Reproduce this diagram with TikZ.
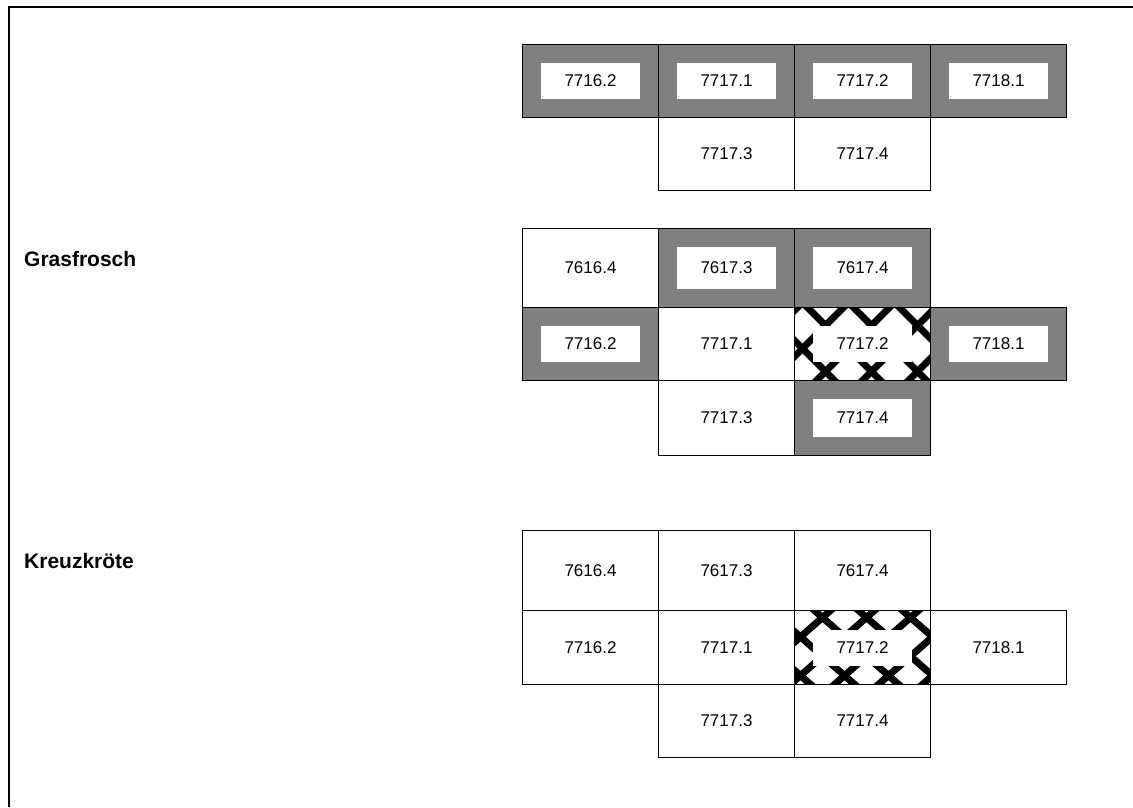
\documentclass[tikz,border=0pt]{standalone}
\usepackage{fontspec}
\setmainfont{Liberation Sans}
\begin{document}
\begin{tikzpicture}[x=1pt,y=-1pt,
cell/.style={draw,line width=1pt,minimum width=136,minimum height=#1,inner sep=0,anchor=north west,font=\fontsize{17}{20}\selectfont},
cell/.default=73,
greycell/.style={cell=#1,fill=gray},
greycell/.default=73,
inbox/.style={fill=white,minimum width=99,minimum height=#1,inner sep=0,font=\fontsize{17}{20}\selectfont},
inbox/.default=36,
hline/.style={line width=7pt,draw=black},
hatchcell/.style n args={5}{cell=#3,path picture={
  \foreach \k in {-5,...,5}{
    \draw[hline] ([shift={(#1+#4*\k,#2)}]path picture bounding box.north west) ++(-120,-120*#5) -- ++(240,240*#5);
    \draw[hline] ([shift={(#1+#4*\k,#2)}]path picture bounding box.north west) ++(-120,120*#5) -- ++(240,-240*#5);
  }}},
title/.style={anchor=west,inner sep=0,font=\bfseries\fontsize{21}{25}\selectfont},
frame/.style={line width=2pt}]
\useasboundingbox (0,0) rectangle (1133,807);
\draw[frame] (8.5,807) -- (8.5,6.5) -- (1133,6.5);
% top grid
\node[greycell] (t77162) at (522,44) {};
\node[inbox] (tl77162) at (t77162.center) {7716.2};
\node[greycell] (t77171) at (658,44) {};
\node[inbox] (tl77171) at (t77171.center) {7717.1};
\node[greycell] (t77172) at (794,44) {};
\node[inbox] (tl77172) at (t77172.center) {7717.2};
\node[greycell] (t77181) at (930,44) {};
\node[inbox] (tl77181) at (t77181.center) {7718.1};
\node[cell] (t77173) at (658,117) {7717.3};
\node[cell] (t77174) at (794,117) {7717.4};
% Grasfrosch
\node[title] (grasfrosch) at (24,259) {Grasfrosch};
\node[cell=79] (g76164) at (522,228) {7616.4};
\node[greycell=79] (g76173) at (658,228) {};
\node[inbox=42] (gl76173) at (g76173.center) {7617.3};
\node[greycell=79] (g76174) at (794,228) {};
\node[inbox=42] (gl76174) at (g76174.center) {7617.4};
\node[greycell] (g77162) at (522,307) {};
\node[inbox] (gl77162) at (g77162.center) {7716.2};
\node[cell] (g77171) at (658,307) {7717.1};
\node[hatchcell={31}{18}{73}{46}{1}] (g77172) at (794,307) {};
\node[inbox] (gl77172) at (g77172.center) {7717.2};
\node[greycell] (g77181) at (930,307) {};
\node[inbox] (gl77181) at (g77181.center) {7718.1};
\node[cell=75] (g77173) at (658,380) {7717.3};
\node[greycell=75] (g77174) at (794,380) {};
\node[inbox=38] (gl77174) at (g77174.center) {7717.4};
% Kreuzkroete
\node[title] (kreuzkroete) at (24,561) {Kreuzkröte};
\node[cell=80] (k76164) at (522,530) {7616.4};
\node[cell=80] (k76173) at (658,530) {7617.3};
\node[cell=80] (k76174) at (794,530) {7617.4};
\node[cell=74] (k77162) at (522,610) {7716.2};
\node[cell=74] (k77171) at (658,610) {7717.1};
\node[hatchcell={28}{7}{74}{44}{0.88}] (k77172) at (794,610) {};
\node[inbox] (kl77172) at (k77172.center) {7717.2};
\node[cell=74] (k77181) at (930,610) {7718.1};
\node[cell] (k77173) at (658,684) {7717.3};
\node[cell] (k77174) at (794,684) {7717.4};
\end{tikzpicture}
\end{document}
